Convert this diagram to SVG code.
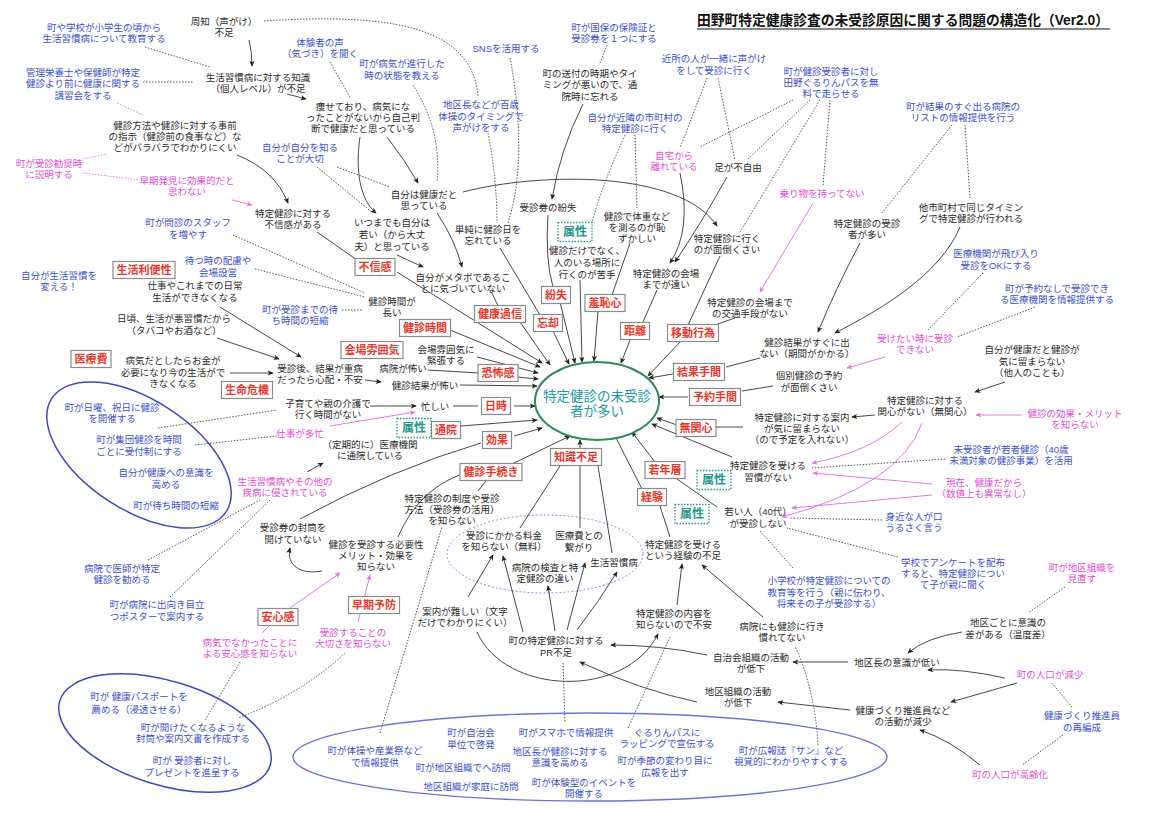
<svg xmlns="http://www.w3.org/2000/svg" width="1151" height="813" viewBox="0 0 1151 813">
<defs>
<style>
text{font-family:"Liberation Sans","Noto Sans CJK JP",sans-serif;font-size:9.5px;text-anchor:middle;dominant-baseline:central}
tspan{dominant-baseline:central}
.k{fill:#2b2b2b}
.b{fill:#3a52c6}
.p{fill:#e04fd4}
.c{fill:#1e9aa0;font-size:13.5px}
.rl{fill:#e8382c;font-size:11px;font-weight:bold}
.rb{fill:#fff;stroke:#8c8c8c;stroke-width:1.2}
.tl{fill:#22998a;font-size:12px;font-weight:bold}
.tb{fill:#fff;stroke:#22998a;stroke-width:1.3;stroke-dasharray:1.5 1.5}
.e{fill:none;stroke:#333;stroke-width:.9;marker-end:url(#ah)}
.l{fill:none;stroke:#333;stroke-width:.9}
.d{fill:none;stroke:#444;stroke-width:.9;stroke-dasharray:1.5 1.5}
.pe{fill:none;stroke:#e47ae0;stroke-width:1;marker-end:url(#ap)}
.pl{fill:none;stroke:#e47ae0;stroke-width:1}
.pd{fill:none;stroke:#e47ae0;stroke-width:1;stroke-dasharray:1.5 1.5}
.be{fill:none;stroke:#3b4bbf;stroke-width:1.5}
</style>
<marker id="ah" viewBox="0 0 8 8" refX="7" refY="4" markerWidth="6" markerHeight="6" markerUnits="userSpaceOnUse" orient="auto"><path d="M0,0.5 L8,4 L0,7.5 L2,4z" fill="#222"/></marker>
<marker id="ap" viewBox="0 0 8 8" refX="7" refY="4" markerWidth="6" markerHeight="6" markerUnits="userSpaceOnUse" orient="auto"><path d="M0,0.5 L8,4 L0,7.5 L2,4z" fill="#e47ae0"/></marker>
</defs>
<rect width="1151" height="813" fill="#fff"/>

<g id="groups">
<ellipse class="be" cx="139" cy="455" rx="104" ry="55" transform="rotate(33 139 455)"/>
<ellipse class="be" cx="165" cy="733" rx="110" ry="52" transform="rotate(17 165 733)"/>
<ellipse cx="590" cy="757" rx="297" ry="44" fill="none" stroke="#6b74d6" stroke-width="1.4"/>
<ellipse cx="545" cy="554" rx="98" ry="39" fill="none" stroke="#8a8ad8" stroke-width="1" stroke-dasharray="2 2"/>
</g>

<g id="connectors">
<path class="e" d="M249,40 Q252,52 252,66"/>
<path class="d" d="M264,21 C400,12 472,30 478,96"/>
<path class="d" d="M145,47 L210,67"/>
<path class="d" d="M143,82 L193,82"/>
<path class="pd" d="M117,103 L143,115"/>
<path class="pd" d="M83,159 L107,154"/>
<path class="pd" d="M83,173 L140,180"/>
<path class="pe" d="M232,200 L252,205"/>
<path class="e" d="M237,155 Q275,170 288,203"/>
<path class="e" d="M287,94 L306,99"/>
<path class="d" d="M330,62 L350,97"/>
<path class="d" d="M413,85 Q442,130 437,182"/>
<path class="e" d="M387,137 Q405,160 418,183"/>
<path class="e" d="M360,137 C355,170 360,200 376,213"/>
<path class="d" d="M337,167 L390,187"/>
<path class="d" d="M317,167 L373,213"/>
<path class="e" d="M463,192 C540,172 680,170 717,226"/>
<path class="e" d="M437,213 Q455,240 462,267"/>
<path class="e" d="M397,255 L423,267"/>
<path class="l" d="M317,232 L357,260"/>
<path class="d" d="M510,58 C522,120 522,180 508,223"/>
<path class="d" d="M488,133 Q497,180 497,223"/>
<path class="e" d="M583,104 Q560,150 552,199"/>
<path class="d" d="M607,45 L600,63"/>
<path class="d" d="M625,135 Q600,190 592,223"/>
<path class="d" d="M635,135 L637,208"/>
<path class="d" d="M707,78 L680,148"/>
<path class="d" d="M718,78 L735,160"/>
<path class="d" d="M793,100 L700,147"/>
<path class="d" d="M810,100 L747,160"/>
<path class="d" d="M820,100 L740,232"/>
<path class="d" d="M830,100 L823,186"/>
<path class="pe" d="M813,203 L760,292"/>
<path class="e" d="M680,173 Q692,230 670,263"/>
<path class="e" d="M727,177 Q700,225 675,262"/>
<path class="l" d="M548,215 Q545,260 553,287"/>
<path class="l" d="M500,248 L540,315"/>
<path class="l" d="M492,293 L498,306"/>
<path class="e" d="M520,322 L550,365"/>
<path class="e" d="M560,302 L575,363"/>
<path class="e" d="M553,331 L569,364"/>
<path class="e" d="M580,280 L582,362"/>
<path class="l" d="M630,243 L612,295"/>
<path class="e" d="M598,311 L594,361"/>
<path class="e" d="M630,340 L621,363"/>
<path class="l" d="M657,290 L643,322"/>
<path class="l" d="M720,256 L688,325"/>
<path class="l" d="M735,318 L712,326"/>
<path class="e" d="M680,342 L648,376"/>
<path class="l" d="M760,358 L726,367"/>
<path class="e" d="M673,374 L649,378"/>
<path class="l" d="M773,386 L742,391"/>
<path class="e" d="M688,397 L659,397"/>
<path class="l" d="M743,427 L716,427"/>
<path class="e" d="M677,425 L657,418"/>
<path class="e" d="M732,457 L652,424"/>
<path class="l" d="M717,507 L677,479"/>
<path class="e" d="M655,462 L632,432"/>
<path class="l" d="M670,537 L660,506"/>
<path class="e" d="M642,489 L614,434"/>
<path class="e" d="M580,448 L580,440"/>
<path class="e" d="M512,464 L570,436"/>
<path class="e" d="M875,415 L852,417"/>
<path class="e" d="M1005,382 L975,392"/>
<path class="pe" d="M1022,415 L976,415"/>
<path class="pe" d="M902,422 Q870,452 812,463"/>
<path class="pe" d="M922,423 Q900,485 782,517"/>
<path class="pe" d="M932,484 L813,473"/>
<path class="pe" d="M932,495 L792,508"/>
<path class="d" d="M945,459 L812,468"/>
<path class="d" d="M882,520 L790,518"/>
<path class="e" d="M860,243 Q835,290 818,332"/>
<path class="e" d="M960,227 C940,275 880,310 835,333"/>
<path class="d" d="M952,125 L882,213"/>
<path class="d" d="M965,125 L970,198"/>
<path class="d" d="M983,273 L928,330"/>
<path class="d" d="M1035,307 L957,337"/>
<path class="pe" d="M885,357 L847,368"/>
<path class="d" d="M255,269 L365,297"/>
<path class="d" d="M233,235 L365,293"/>
<path class="d" d="M342,310 L362,310"/>
<path class="e" d="M450,330 L540,367"/>
<path class="e" d="M397,272 L542,363"/>
<path class="e" d="M477,357 L538,373"/>
<path class="l" d="M428,370 L479,373"/>
<path class="e" d="M517,377 L538,379"/>
<path class="e" d="M460,385 L537,386"/>
<path class="e" d="M365,380 L381,382"/>
<path class="e" d="M370,406 L416,406"/>
<path class="pe" d="M330,426 L415,412"/>
<path class="l" d="M453,406 L478,406"/>
<path class="e" d="M514,406 L535,406"/>
<path class="e" d="M461,426 L537,420"/>
<path class="e" d="M514,436 L542,428"/>
<path class="e" d="M307,472 L323,463"/>
<path class="e" d="M220,307 L301,357"/>
<path class="e" d="M217,338 L279,359"/>
<path class="e" d="M230,373 L273,373"/>
<path class="d" d="M158,428 L277,410"/>
<path class="d" d="M195,445 L277,436"/>
<path class="d" d="M148,560 L260,500"/>
<path class="d" d="M170,597 L270,500"/>
<path class="l" d="M300,519 Q390,470 481,443"/>
<path class="l" d="M398,537 Q418,490 462,474"/>
<path class="l" d="M478,491 L486,481"/>
<path class="e" d="M322,571 C300,575 286,565 290,548"/>
<path class="pe" d="M290,608 L340,573"/>
<path class="pl" d="M262,633 L270,625"/>
<path class="pe" d="M358,622 L370,575"/>
<path class="d" d="M240,662 L205,720"/>
<path class="d" d="M345,653 Q300,695 238,718"/>
<path class="d" d="M380,733 L442,527"/>
<path class="e" d="M468,597 L493,555"/>
<path class="e" d="M477,632 C505,695 625,700 658,634"/>
<path class="e" d="M523,632 L503,556"/>
<path class="e" d="M555,631 L548,586"/>
<path class="e" d="M567,630 L585,563"/>
<path class="e" d="M577,630 Q600,600 617,572"/>
<path class="d" d="M563,663 L565,723"/>
<path class="e" d="M707,655 Q660,645 611,645"/>
<path class="e" d="M697,702 Q640,690 580,662"/>
<path class="e" d="M677,605 L682,564"/>
<path class="e" d="M763,617 L702,565"/>
<path class="d" d="M628,728 L670,637"/>
<path class="d" d="M818,745 Q815,690 795,646"/>
<path class="d" d="M793,568 L760,531"/>
<path class="d" d="M898,557 L787,528"/>
<path class="e" d="M848,662 L793,662"/>
<path class="e" d="M850,710 L778,702"/>
<path class="d" d="M1065,587 L1028,613"/>
<path class="e" d="M962,632 Q925,638 908,653"/>
<path class="e" d="M1005,678 Q960,668 928,670"/>
<path class="e" d="M1017,683 L951,702"/>
<path class="d" d="M1052,683 L1072,707"/>
<path class="d" d="M1063,735 L1022,765"/>
<path class="e" d="M980,765 Q950,740 920,730"/>
<path class="l" d="M560,466 L520,528"/>
<path class="l" d="M580,466 L580,528"/>
<path class="l" d="M598,466 L612,553"/>
</g>

<g id="title"><text x="697" y="20" textLength="412" lengthAdjust="spacingAndGlyphs" style="text-anchor:start;font-size:14px;font-weight:bold;fill:#111">田野町特定健康診査の未受診原因に関する問題の構造化（Ver2.0）</text><line x1="697" y1="29" x2="1110" y2="29" stroke="#111" stroke-width="1.2"/></g>

<g id="center"><ellipse cx="597" cy="401" rx="62" ry="39" fill="#fff" stroke="#2e8b57" stroke-width="2"/><text class="c"><tspan x="597" y="396">特定健診の未受診</tspan><tspan x="597" y="411">者が多い</tspan></text></g>

<g id="n01"><text class="k"><tspan x="224" y="21">周知（声がけ）</tspan><tspan x="224" y="32">不足</tspan></text></g>
<g id="n02"><text class="k"><tspan x="258" y="77">生活習慣病に対する知識</tspan><tspan x="258" y="88">（個人レベル）が不足</tspan></text></g>
<g id="n03"><text class="k"><tspan x="175" y="125">健診方法や健診に対する事前</tspan><tspan x="175" y="136">の指示（健診前の食事など）な</tspan><tspan x="175" y="147">どがバラバラでわかりにくい</tspan></text></g>
<g id="n04"><text class="k"><tspan x="293" y="213">特定健診に対する</tspan><tspan x="293" y="224">不信感がある</tspan></text></g>
<g id="n05"><text class="k"><tspan x="363" y="106">痩せており、病気にな</tspan><tspan x="363" y="117">ったことがないから自己判</tspan><tspan x="363" y="128">断で健康だと思っている</tspan></text></g>
<g id="n06"><text class="k"><tspan x="424" y="194">自分は健康だと</tspan><tspan x="424" y="205">思っている</tspan></text></g>
<g id="n07"><text class="k"><tspan x="392" y="222">いつまでも自分は</tspan><tspan x="392" y="234">若い（から大丈</tspan><tspan x="392" y="246">夫）と思っている</tspan></text></g>
<g id="n08"><text class="k"><tspan x="463" y="277">自分がメタボであるこ</tspan><tspan x="463" y="288">とに気づいていない</tspan></text></g>
<g id="n09"><text class="k"><tspan x="488" y="229">単純に健診日を</tspan><tspan x="488" y="240">忘れている</tspan></text></g>
<g id="n10"><text class="k" x="548" y="207">受診券の紛失</text></g>
<g id="n11"><text class="k"><tspan x="590" y="73">町の送付の時期やタイ</tspan><tspan x="590" y="84">ミングが悪いので、通</tspan><tspan x="590" y="96">院時に忘れる</tspan></text></g>
<g id="n12"><text class="k"><tspan x="587" y="250">健診だけでなく、</tspan><tspan x="587" y="262">人のいる場所に</tspan><tspan x="587" y="274">行くのが苦手</tspan></text></g>
<g id="n13"><text class="k"><tspan x="637" y="216">健診で体重など</tspan><tspan x="637" y="227">を測るのが恥</tspan><tspan x="637" y="238">ずかしい</tspan></text></g>
<g id="n14"><text class="k" x="738" y="167">足が不自由</text></g>
<g id="n15"><text class="k"><tspan x="727" y="238">特定健診に行く</tspan><tspan x="727" y="249">のが面倒くさい</tspan></text></g>
<g id="n16"><text class="k"><tspan x="666" y="273">特定健診の会場</tspan><tspan x="666" y="284">までが遠い</tspan></text></g>
<g id="n17"><text class="k"><tspan x="750" y="302">特定健診の会場まで</tspan><tspan x="750" y="313">の交通手段がない</tspan></text></g>
<g id="n18"><text class="k"><tspan x="867" y="223">特定健診の受診</tspan><tspan x="867" y="234">者が多い</tspan></text></g>
<g id="n19"><text class="k"><tspan x="971" y="207">他市町村で同じタイミン</tspan><tspan x="971" y="218">グで特定健診が行われる</tspan></text></g>
<g id="n20"><text class="k"><tspan x="807" y="342">健診結果がすぐに出</tspan><tspan x="807" y="353">ない（期間がかかる）</tspan></text></g>
<g id="n21"><text class="k"><tspan x="809" y="375">個別健診の予約</tspan><tspan x="809" y="387">が面倒くさい</tspan></text></g>
<g id="n22"><text class="k"><tspan x="1032" y="349">自分が健康だと健診が</tspan><tspan x="1032" y="361">気に留まらない</tspan><tspan x="1032" y="372">（他人のことも）</tspan></text></g>
<g id="n23"><text class="k"><tspan x="925" y="400">特定健診に対する</tspan><tspan x="925" y="411">関心がない（無関心）</tspan></text></g>
<g id="n24"><text class="k"><tspan x="802" y="417">特定健診に対する案内</tspan><tspan x="802" y="428">が気に留まらない</tspan><tspan x="802" y="439">（ので予定を入れない）</tspan></text></g>
<g id="n25"><text class="k"><tspan x="768" y="465">特定健診を受ける</tspan><tspan x="768" y="477">習慣がない</tspan></text></g>
<g id="n26"><text class="k"><tspan x="758" y="511">若い人（40代）</tspan><tspan x="758" y="523">が受診しない</tspan></text></g>
<g id="n27"><text class="k"><tspan x="392" y="301">健診時間が</tspan><tspan x="392" y="312">長い</tspan></text></g>
<g id="n28"><text class="k"><tspan x="195" y="285">仕事やこれまでの日常</tspan><tspan x="195" y="297">生活ができなくなる</tspan></text></g>
<g id="n29"><text class="k"><tspan x="174" y="318">日頃、生活が悪習慣だから</tspan><tspan x="174" y="330">（タバコやお酒など）</tspan></text></g>
<g id="n30"><text class="k"><tspan x="173" y="360">病気だとしたらお金が</tspan><tspan x="173" y="372">必要になり今の生活がで</tspan><tspan x="173" y="383">きなくなる</tspan></text></g>
<g id="n31"><text class="k"><tspan x="320" y="368">受診後、結果が重病</tspan><tspan x="320" y="379">だったら心配・不安</tspan></text></g>
<g id="n32"><text class="k"><tspan x="446" y="349">会場雰囲気に</tspan><tspan x="446" y="360">緊張する</tspan></text></g>
<g id="n33"><text class="k" x="403" y="368">病院が怖い</text></g>
<g id="n34"><text class="k" x="425" y="385">健診結果が怖い</text></g>
<g id="n35"><text class="k"><tspan x="328" y="403">子育てや親の介護で</tspan><tspan x="328" y="414">行く時間がない</tspan></text></g>
<g id="n36"><text class="k" x="435" y="406">忙しい</text></g>
<g id="n37"><text class="k"><tspan x="370" y="444">（定期的に）医療機関</tspan><tspan x="370" y="455">に通院している</tspan></text></g>
<g id="n38"><text class="k"><tspan x="293" y="527">受診券の封筒を</tspan><tspan x="293" y="539">開けていない</tspan></text></g>
<g id="n39"><text class="k"><tspan x="376" y="544">健診を受診する必要性</tspan><tspan x="376" y="555">メリット・効果を</tspan><tspan x="376" y="566">知らない</tspan></text></g>
<g id="n40"><text class="k"><tspan x="452" y="498">特定健診の制度や受診</tspan><tspan x="452" y="509">方法（受診券の活用）</tspan><tspan x="452" y="520">を知らない</tspan></text></g>
<g id="n41"><text class="k"><tspan x="504" y="535">受診にかかる料金</tspan><tspan x="504" y="546">を知らない（無料）</tspan></text></g>
<g id="n42"><text class="k"><tspan x="579" y="535">医療費との</tspan><tspan x="579" y="547">繋がり</tspan></text></g>
<g id="n43"><text class="k"><tspan x="545" y="567">病院の検査と特</tspan><tspan x="545" y="578">定健診の違い</tspan></text></g>
<g id="n44"><text class="k" x="614" y="562">生活習慣病</text></g>
<g id="n45"><text class="k"><tspan x="683" y="544">特定健診を受ける</tspan><tspan x="683" y="555">という経験の不足</tspan></text></g>
<g id="n46"><text class="k"><tspan x="465" y="611">案内が難しい（文字</tspan><tspan x="465" y="622">だけでわかりにくい）</tspan></text></g>
<g id="n47"><text class="k"><tspan x="674" y="613">特定健診の内容を</tspan><tspan x="674" y="624">知らないので不安</tspan></text></g>
<g id="n48"><text class="k"><tspan x="782" y="626">病院にも健診に行き</tspan><tspan x="782" y="637">慣れてない</tspan></text></g>
<g id="n49"><text class="k"><tspan x="556" y="640">町の特定健診に対する</tspan><tspan x="556" y="652">PR不足</tspan></text></g>
<g id="n50"><text class="k"><tspan x="751" y="657">自治会組織の活動</tspan><tspan x="751" y="668">が低下</tspan></text></g>
<g id="n51"><text class="k"><tspan x="738" y="691">地区組織の活動</tspan><tspan x="738" y="702">が低下</tspan></text></g>
<g id="n52"><text class="k"><tspan x="1008" y="622">地区ごとに意識の</tspan><tspan x="1008" y="634">差がある（温度差）</tspan></text></g>
<g id="n53"><text class="k" x="897" y="662">地区長の意識が低い</text></g>
<g id="n54"><text class="k"><tspan x="903" y="710">健康づくり推進員など</tspan><tspan x="903" y="721">の活動が減少</tspan></text></g>

<g id="b01"><text class="b"><tspan x="104" y="27">町や学校が小学生の頃から</tspan><tspan x="104" y="38">生活習慣病について教育する</tspan></text></g>
<g id="b02"><text class="b"><tspan x="83" y="72">管理栄養士や保健師が特定</tspan><tspan x="83" y="83">健診より前に健康に関する</tspan><tspan x="83" y="95">講習会をする</tspan></text></g>
<g id="b03"><text class="b"><tspan x="188" y="222">町が問診のスタッフ</tspan><tspan x="188" y="234">を増やす</tspan></text></g>
<g id="b04"><text class="b"><tspan x="218" y="260">待つ時の配慮や</tspan><tspan x="218" y="272">会場設営</tspan></text></g>
<g id="b05"><text class="b"><tspan x="59" y="275">自分が生活習慣を</tspan><tspan x="59" y="286">変える！</tspan></text></g>
<g id="b06"><text class="b"><tspan x="320" y="42">体験者の声</tspan><tspan x="320" y="53">（気づき）を聞く</tspan></text></g>
<g id="b07"><text class="b"><tspan x="402" y="63">町が病気が進行した</tspan><tspan x="402" y="75">時の状態を教える</tspan></text></g>
<g id="b08"><text class="b"><tspan x="300" y="147">自分が自分を知る</tspan><tspan x="300" y="158">ことが大切</tspan></text></g>
<g id="b09"><text class="b" x="506" y="48">SNSを活用する</text></g>
<g id="b10"><text class="b"><tspan x="481" y="104">地区長などが百歳</tspan><tspan x="481" y="116">体操のタイミングで</tspan><tspan x="481" y="127">声がけをする</tspan></text></g>
<g id="b11"><text class="b"><tspan x="614" y="27">町が国保の保険証と</tspan><tspan x="614" y="38">受診券を１つにする</tspan></text></g>
<g id="b12"><text class="b"><tspan x="635" y="117">自分が近隣の市町村の</tspan><tspan x="635" y="128">特定健診に行く</tspan></text></g>
<g id="b13"><text class="b"><tspan x="714" y="58">近所の人が一緒に声がけ</tspan><tspan x="714" y="70">をして受診に行く</tspan></text></g>
<g id="b14"><text class="b"><tspan x="831" y="71">町が健診受診者に対し</tspan><tspan x="831" y="82">田野ぐるりんパスを無</tspan><tspan x="831" y="93">料で走らせる</tspan></text></g>
<g id="b15"><text class="b"><tspan x="963" y="106">町が結果のすぐ出る病院の</tspan><tspan x="963" y="117">リストの情報提供を行う</tspan></text></g>
<g id="b16"><text class="b"><tspan x="996" y="253">医療機関が飛び入り</tspan><tspan x="996" y="265">受診をOKにする</tspan></text></g>
<g id="b17"><text class="b"><tspan x="1057" y="288">町が予約なしで受診でき</tspan><tspan x="1057" y="299">る医療機関を情報提供する</tspan></text></g>
<g id="b18"><text class="b"><tspan x="1011" y="449">未受診者が若者健診（40歳</tspan><tspan x="1011" y="460">未満対象の健診事業）を活用</tspan></text></g>
<g id="b19"><text class="b"><tspan x="914" y="516">身近な人が口</tspan><tspan x="914" y="527">うるさく言う</tspan></text></g>
<g id="b20"><text class="b"><tspan x="300" y="309">町が受診までの待</tspan><tspan x="300" y="320">ち時間の短縮</tspan></text></g>
<g id="b21"><text class="b"><tspan x="112" y="407">町が日曜、祝日に健診</tspan><tspan x="112" y="418">を開催する</tspan></text></g>
<g id="b22"><text class="b"><tspan x="139" y="439">町が集団健診を時間</tspan><tspan x="139" y="451">ごとに受付制にする</tspan></text></g>
<g id="b23"><text class="b"><tspan x="166" y="472">自分が健康への意識を</tspan><tspan x="166" y="484">高める</tspan></text></g>
<g id="b24"><text class="b" x="176" y="505">町が待ち時間の短縮</text></g>
<g id="b25"><text class="b"><tspan x="122" y="568">病院で医師が特定</tspan><tspan x="122" y="579">健診を勧める</tspan></text></g>
<g id="b26"><text class="b"><tspan x="157" y="604">町が病院に出向き目立</tspan><tspan x="157" y="616">つポスターで案内する</tspan></text></g>
<g id="b27"><text class="b"><tspan x="139" y="696">町が 健康パスポートを</tspan><tspan x="139" y="709">薦める（浸透させる）</tspan></text></g>
<g id="b28"><text class="b"><tspan x="193" y="727">町が開けたくなるような</tspan><tspan x="193" y="738">封筒や案内文書を作成する</tspan></text></g>
<g id="b29"><text class="b"><tspan x="192" y="760">町が 受診者に対し</tspan><tspan x="192" y="772">プレゼントを進呈する</tspan></text></g>
<g id="b30"><text class="b"><tspan x="375" y="750">町が体操や産業祭など</tspan><tspan x="375" y="762">で情報提供</tspan></text></g>
<g id="b31"><text class="b"><tspan x="471" y="732">町が自治会</tspan><tspan x="471" y="744">単位で啓発</tspan></text></g>
<g id="b32"><text class="b" x="463" y="767">町が地区組織でへ訪問</text></g>
<g id="b33"><text class="b" x="471" y="786">地区組織が家庭に訪問</text></g>
<g id="b34"><text class="b" x="566" y="732">町がスマホで情報提供</text></g>
<g id="b35"><text class="b"><tspan x="560" y="751">地区長が健診に対する</tspan><tspan x="560" y="762">意識を高める</tspan></text></g>
<g id="b36"><text class="b"><tspan x="584" y="782">町が体験型のイベントを</tspan><tspan x="584" y="793">開催する</tspan></text></g>
<g id="b37"><text class="b"><tspan x="667" y="732">ぐるりんパスに</tspan><tspan x="667" y="743">ラッピングで宣伝する</tspan></text></g>
<g id="b38"><text class="b"><tspan x="665" y="760">町が季節の変わり目に</tspan><tspan x="665" y="772">広報を出す</tspan></text></g>
<g id="b39"><text class="b"><tspan x="791" y="750">町が広報誌『サン』など</tspan><tspan x="791" y="761">視覚的にわかりやすくする</tspan></text></g>
<g id="b40"><text class="b"><tspan x="829" y="580">小学校が特定健診についての</tspan><tspan x="829" y="592">教育等を行う（親に伝わり、</tspan><tspan x="829" y="603">将来その子が受診する）</tspan></text></g>
<g id="b41"><text class="b"><tspan x="953" y="562">学校でアンケートを配布</tspan><tspan x="953" y="573">すると、特定健診につい</tspan><tspan x="953" y="584">て子が親に聞く</tspan></text></g>
<g id="b42"><text class="b"><tspan x="1082" y="715">健康づくり推進員</tspan><tspan x="1082" y="727">の再編成</tspan></text></g>

<g id="p01"><text class="p"><tspan x="49" y="163">町が受診勧奨時</tspan><tspan x="49" y="174">に説明する</tspan></text></g>
<g id="p02"><text class="p"><tspan x="187" y="180">早期発見に効果的だと</tspan><tspan x="187" y="191">思わない</tspan></text></g>
<g id="p03"><text class="p"><tspan x="674" y="155">自宅から</tspan><tspan x="674" y="166">離れている</tspan></text></g>
<g id="p04"><text class="p" x="822" y="193">乗り物を持ってない</text></g>
<g id="p05"><text class="p"><tspan x="915" y="338">受けたい時に受診</tspan><tspan x="915" y="349">できない</tspan></text></g>
<g id="p06"><text class="p"><tspan x="1075" y="413">健診の効果・メリット</tspan><tspan x="1075" y="424">を知らない</tspan></text></g>
<g id="p07"><text class="p"><tspan x="984" y="482">現在、健康だから</tspan><tspan x="984" y="493">（数値上も異常なし）</tspan></text></g>
<g id="p08"><text class="p" x="300" y="433">仕事が多忙</text></g>
<g id="p09"><text class="p"><tspan x="285" y="481">生活習慣病やその他の</tspan><tspan x="285" y="492">疾病に侵されている</tspan></text></g>
<g id="p10"><text class="p"><tspan x="250" y="642">病気でなかったことに</tspan><tspan x="250" y="653">よる安心感を知らない</tspan></text></g>
<g id="p11"><text class="p"><tspan x="353" y="632">受診することの</tspan><tspan x="353" y="643">大切さを知らない</tspan></text></g>
<g id="p12"><text class="p"><tspan x="1082" y="567">町が地区組織を</tspan><tspan x="1082" y="578">見直す</tspan></text></g>
<g id="p13"><text class="p" x="1050" y="674">町の人口が減少</text></g>
<g id="p14"><text class="p" x="1010" y="774">町の人口が高齢化</text></g>

<g id="r01"><rect class="rb" x="113" y="261.5" width="62" height="17"/><text class="rl" x="144" y="270">生活利便性</text></g>
<g id="r02"><rect class="rb" x="71" y="350.5" width="40" height="17"/><text class="rl" x="91" y="359">医療費</text></g>
<g id="r03"><rect class="rb" x="221.5" y="381.5" width="51" height="17"/><text class="rl" x="247" y="390">生命危機</text></g>
<g id="r04"><rect class="rb" x="355" y="258.5" width="40" height="17"/><text class="rl" x="375" y="267">不信感</text></g>
<g id="r05"><rect class="rb" x="399.5" y="319.5" width="51" height="17"/><text class="rl" x="425" y="328">健診時間</text></g>
<g id="r06"><rect class="rb" x="341" y="341.5" width="62" height="17"/><text class="rl" x="372" y="350">会場雰囲気</text></g>
<g id="r07"><rect class="rb" x="478" y="364.5" width="40" height="17"/><text class="rl" x="498" y="373">恐怖感</text></g>
<g id="r08"><rect class="rb" x="481.5" y="397.5" width="29" height="17"/><text class="rl" x="496" y="406">日時</text></g>
<g id="r09"><rect class="rb" x="431.5" y="421.5" width="29" height="17"/><text class="rl" x="446" y="430">通院</text></g>
<g id="r10"><rect class="rb" x="482.5" y="431.5" width="29" height="17"/><text class="rl" x="497" y="440">効果</text></g>
<g id="r11"><rect class="rb" x="460" y="463.5" width="62" height="17"/><text class="rl" x="491" y="472">健診手続き</text></g>
<g id="r12"><rect class="rb" x="474.5" y="305.5" width="51" height="17"/><text class="rl" x="500" y="314">健康過信</text></g>
<g id="r13"><rect class="rb" x="541.5" y="286.5" width="29" height="17"/><text class="rl" x="556" y="295">紛失</text></g>
<g id="r14"><rect class="rb" x="533.5" y="314.5" width="29" height="17"/><text class="rl" x="548" y="323">忘却</text></g>
<g id="r15"><rect class="rb" x="585" y="294.5" width="40" height="17"/><text class="rl" x="605" y="303">羞恥心</text></g>
<g id="r16"><rect class="rb" x="620.5" y="322.5" width="29" height="17"/><text class="rl" x="635" y="331">距離</text></g>
<g id="r17"><rect class="rb" x="667.5" y="324.5" width="51" height="17"/><text class="rl" x="693" y="333">移動行為</text></g>
<g id="r18"><rect class="rb" x="673.5" y="363.5" width="51" height="17"/><text class="rl" x="699" y="372">結果手間</text></g>
<g id="r19"><rect class="rb" x="689.5" y="388.5" width="51" height="17"/><text class="rl" x="715" y="397">予約手間</text></g>
<g id="r20"><rect class="rb" x="676" y="419.5" width="40" height="17"/><text class="rl" x="696" y="428">無関心</text></g>
<g id="r21"><rect class="rb" x="645" y="461.5" width="40" height="17"/><text class="rl" x="665" y="470">若年層</text></g>
<g id="r22"><rect class="rb" x="637.5" y="488.5" width="29" height="17"/><text class="rl" x="652" y="497">経験</text></g>
<g id="r23"><rect class="rb" x="550.5" y="448.5" width="51" height="17"/><text class="rl" x="576" y="457">知識不足</text></g>
<g id="r24"><rect class="rb" x="258" y="608.5" width="40" height="17"/><text class="rl" x="278" y="617">安心感</text></g>
<g id="r25"><rect class="rb" x="348.5" y="596.5" width="51" height="17"/><text class="rl" x="374" y="605">早期予防</text></g>

<g id="t01"><rect class="tb" x="397" y="418.5" width="34" height="19"/><text class="tl" x="414" y="428">属性</text></g>
<g id="t02"><rect class="tb" x="558" y="222.5" width="34" height="19"/><text class="tl" x="575" y="232">属性</text></g>
<g id="t03"><rect class="tb" x="697" y="470.5" width="34" height="19"/><text class="tl" x="714" y="480">属性</text></g>
<g id="t04"><rect class="tb" x="675" y="504.5" width="34" height="19"/><text class="tl" x="692" y="514">属性</text></g>
</svg>
